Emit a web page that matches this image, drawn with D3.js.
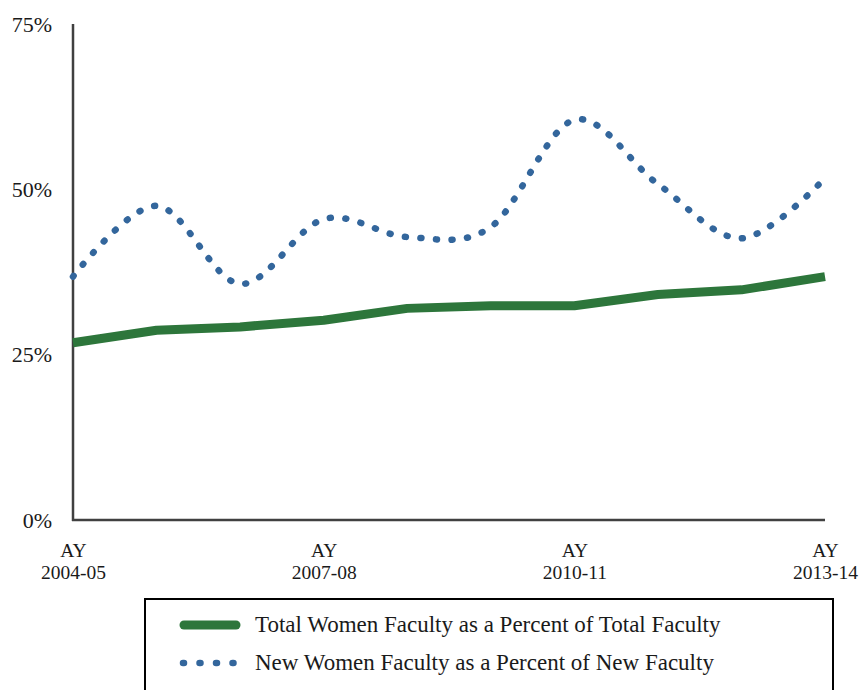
<!DOCTYPE html>
<html><head><meta charset="utf-8">
<script src="https://cdn.jsdelivr.net/npm/d3@7"></script>
</head>
<body style="margin:0">
<svg id="c" width="860" height="690" style="display:block"></svg>
<script>
const years = ["2004-05","2005-06","2006-07","2007-08","2008-09","2009-10","2010-11","2011-12","2012-13","2013-14"];
const totalWomen = [0.268,0.287,0.292,0.302,0.320,0.324,0.324,0.341,0.348,0.368];
const newWomen = [0.368,0.475,0.357,0.455,0.428,0.443,0.605,0.508,0.426,0.517];
const yTicks = [0,0.25,0.5,0.75];
const xLabelYears = ["2004-05","2007-08","2010-11","2013-14"];
const seriesNames = ["Total Women Faculty as a Percent of Total Faculty","New Women Faculty as a Percent of New Faculty"];
const colors = ["#2d763b","#33669c"];
const FONT = "Liberation Serif";

const svg = d3.select("#c");
const x = d3.scalePoint().domain(years).range([73,825]);
const y = d3.scaleLinear().domain([0,0.75]).range([520,24]);

// y axis labels
const yAxis = d3.axisLeft(y).tickValues(yTicks).tickFormat(d3.format(".0%")).tickSize(0).tickPadding(21);
const gy = svg.append("g").attr("transform","translate(73,0)").call(yAxis);
gy.attr("font-family",FONT).attr("font-size",22);
gy.select(".domain").remove();
gy.selectAll("text").attr("fill","#1a1a1a");

// x axis labels
const xAxis = d3.axisBottom(x).tickValues(xLabelYears).tickSize(0).tickFormat("");
const gx = svg.append("g").attr("transform","translate(0,520)").call(xAxis);
gx.attr("font-family",FONT).attr("font-size",19.5);
gx.select(".domain").remove();
gx.selectAll(".tick").each(function(d){
  const t = d3.select(this).append("text").attr("text-anchor","middle").attr("fill","#1a1a1a");
  t.append("tspan").attr("x",0).attr("y",36.5).text("AY");
  t.append("tspan").attr("x",0).attr("y",58.5).text(d);
});

// axis lines
svg.append("line").attr("x1",73).attr("x2",73).attr("y1",y(0.75)).attr("y2",y(0)+1).attr("stroke","#404040").attr("stroke-width",2.5);
svg.append("line").attr("x1",72).attr("x2",825).attr("y1",y(0)).attr("y2",y(0)).attr("stroke","#404040").attr("stroke-width",2.5);

// lines
const lineTotal = d3.line().x((d,i)=>x(years[i])).y(d=>y(d));
const lineNew = d3.line().x((d,i)=>x(years[i])).y(d=>y(d)).curve(d3.curveCatmullRom.alpha(0));

svg.append("path").attr("d",lineTotal(totalWomen)).attr("fill","none").attr("stroke",colors[0]).attr("stroke-width",9).attr("stroke-linejoin","round");
svg.append("path").attr("d",lineNew(newWomen)).attr("fill","none").attr("stroke",colors[1]).attr("stroke-width",6.5).attr("stroke-linecap","round").attr("stroke-dasharray","1 14.6");

// legend
svg.append("rect").attr("x",145).attr("y",599).attr("width",688).attr("height",100).attr("fill","#fff").attr("stroke","#000").attr("stroke-width",2);
svg.append("line").attr("x1",184).attr("x2",236).attr("y1",625).attr("y2",625).attr("stroke",colors[0]).attr("stroke-width",9).attr("stroke-linecap","round");
svg.append("line").attr("x1",183).attr("x2",240).attr("y1",663).attr("y2",663).attr("stroke",colors[1]).attr("stroke-width",6.5).attr("stroke-linecap","round").attr("stroke-dasharray","1 15.5");
seriesNames.forEach((n,i)=>
  svg.append("text").attr("x",255).attr("y",[632,670][i]).attr("font-family",FONT).attr("font-size",23).attr("fill","#1a1a1a").text(n));
</script></body></html>
